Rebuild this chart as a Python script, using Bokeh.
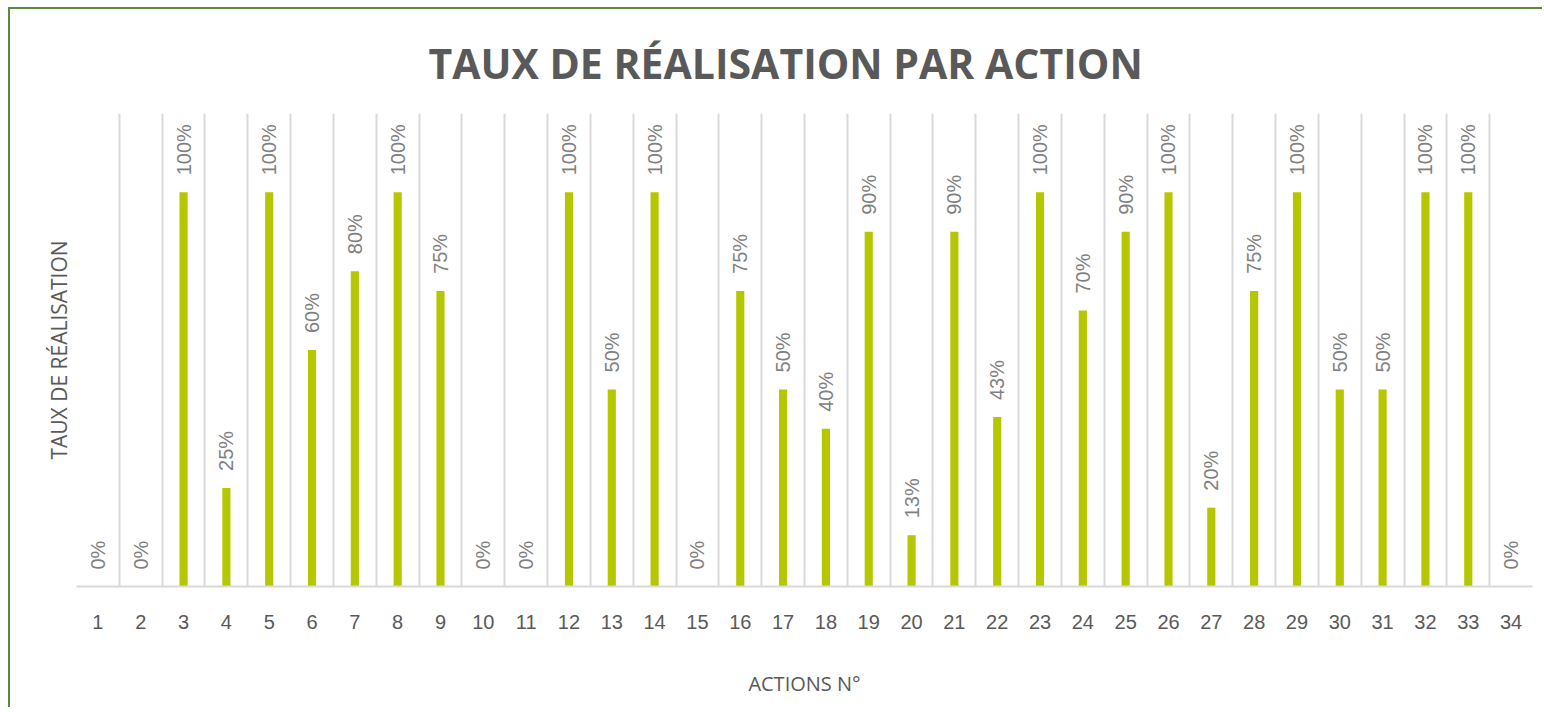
from bokeh.plotting import figure
from bokeh.models import ColumnDataSource, FixedTicker, Range1d
from bokeh.embed import file_html
from bokeh.resources import INLINE
from bokeh.core.properties import value

# ---- data ----
actions = list(range(1, 35))
rates = [0.00, 0.00, 1.00, 0.25, 1.00, 0.60, 0.80, 1.00, 0.75, 0.00,
         0.00, 1.00, 0.50, 1.00, 0.00, 0.75, 0.50, 0.40, 0.90, 0.13,
         0.90, 0.43, 1.00, 0.70, 0.90, 1.00, 0.20, 0.75, 1.00, 0.50,
         0.50, 1.00, 1.00, 0.00]
labels = [f"{round(r * 100)}%" for r in rates]
tick_labels = [str(a) for a in actions]

title_text = "TAUX DE RÉALISATION PAR ACTION"
x_title = "ACTIONS N°"
y_title = "TAUX DE RÉALISATION"

source = ColumnDataSource(dict(x=actions, top=rates, label=labels))

p = figure(width=1534, height=700, output_backend="svg", toolbar_location=None,
           x_range=Range1d(0.5, len(actions) + 0.5), y_range=Range1d(0, 1.2),
           min_border_left=66, min_border_right=12, min_border_top=104,
           min_border_bottom=123)
p.styles = {"border-left": "2px solid #5a8a3c", "border-top": "2px solid #5a8a3c",
            "margin-left": "8px", "margin-top": "7px"}
p.outline_line_color = None
p.background_fill_color = "white"
p.border_fill_color = "white"

p.vbar(x="x", top="top", width=0.19, bottom=0, source=source,
       fill_color="#b4c700", line_color=None)

p.text(x="x", y="top", text="label", source=source, angle=1.5708,
       text_align="left", text_baseline="middle", y_offset=-17,
       text_font=value("Liberation Sans"), text_font_size="20px",
       text_color="#7f7f7f")

# title
p.title.text = title_text
p.title.align = "left"
p.title.offset = 352
p.title.standoff = 46
p.title.text_font = "Open Sans"
p.title.text_font_style = "bold"
p.title.text_font_size = "41px"
p.title.text_color = "#595959"

# x axis
p.xaxis.ticker = FixedTicker(ticks=actions)
p.xaxis.major_label_overrides = {a: t for a, t in zip(actions, tick_labels)}
p.xaxis.major_label_text_font = "Liberation Sans"
p.xaxis.major_label_text_font_size = "20px"
p.xaxis.major_label_text_color = "#595959"
p.xaxis.major_label_standoff = 28
p.xaxis.major_tick_out = 0
p.xaxis.major_tick_in = 0
p.xaxis.minor_tick_out = 0
p.xaxis.minor_tick_in = 0
p.xaxis.axis_line_color = "#d9d9d9"
p.xaxis.axis_line_width = 2
p.xaxis.axis_label = x_title
p.xaxis.axis_label_text_font = "Open Sans"
p.xaxis.axis_label_text_font_style = "normal"
p.xaxis.axis_label_text_font_size = "20px"
p.xaxis.axis_label_text_color = "#595959"
p.xaxis.axis_label_standoff = 38

# y axis (title only)
p.yaxis.ticker = FixedTicker(ticks=[])
p.yaxis.major_tick_out = 0
p.yaxis.major_tick_in = 0
p.yaxis.minor_tick_out = 0
p.yaxis.minor_tick_in = 0
p.yaxis.axis_line_color = None
p.yaxis.axis_label = y_title
p.yaxis.axis_label_text_font = "Open Sans"
p.yaxis.axis_label_text_font_style = "normal"
p.yaxis.axis_label_text_font_size = "21px"
p.yaxis.axis_label_text_color = "#595959"
p.yaxis.axis_label_standoff = 4

# grid: vertical lines at category boundaries
p.xgrid.ticker = FixedTicker(ticks=[a + 0.5 for a in [0] + actions])
p.xgrid.grid_line_color = "#d9d9d9"
p.xgrid.grid_line_width = 2
p.ygrid.grid_line_color = None

open("out.html", "w").write(file_html(p, INLINE))
